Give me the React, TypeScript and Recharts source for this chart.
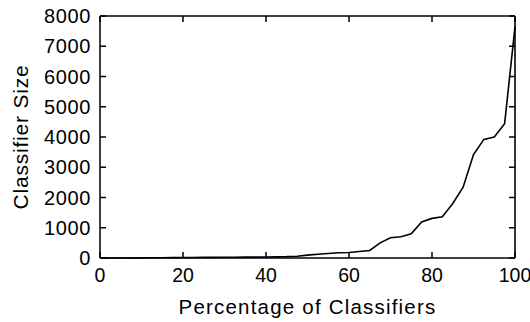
import React from 'react';
import { LineChart, Line, XAxis, YAxis } from 'recharts';

// percentage of classifiers (x) and classifier size (y)
const percentages = [
  0, 2.5, 5, 7.5, 10, 12.5, 15, 17.5, 20, 22.5, 25, 27.5, 30, 32.5, 35, 37.5, 40,
  42.5, 45, 47.5, 50, 52.5, 55, 57.5, 60, 62.5, 65, 67.5, 70, 72.5, 75, 77.5, 80,
  82.5, 85, 87.5, 90, 92.5, 95, 97.5, 100,
];
const sizes = [
  0, 0, 0, 0, 5, 8, 10, 12, 15, 18, 20, 22, 24, 26, 28, 30, 32,
  38, 45, 60, 95, 125, 150, 175, 180, 215, 250, 500, 670, 700, 800, 1190, 1310,
  1360, 1800, 2340, 3420, 3920, 4000, 4440, 7650,
];
const xTicks = [0, 20, 40, 60, 80, 100];
const yTicks = [0, 1000, 2000, 3000, 4000, 5000, 6000, 7000, 8000];

const data = percentages.map((p, i) => ({ pct: p, size: sizes[i] }));

const W = 530;
const H = 322;
const margin = { top: 16, right: 15, left: 0, bottom: 0 };
const Y_AXIS_W = 100;
const X_AXIS_H = 64;
const plotW = W - margin.left - margin.right - Y_AXIS_W;
const plotH = H - margin.top - margin.bottom - X_AXIS_H;
const TICK = 6;
const X_GAP = 10;
const Y_GAP = 9;

const font = '"Liberation Sans", Arial, sans-serif';

// bottom tick: label plus inward tick marks on bottom and top edges;
// the first tick (value 0) also draws the top edge of the frame
const XTick = (props: any) => {
  const { x, y, payload } = props;
  const base = y - X_GAP;
  const top = base - plotH;
  return (
    <g>
      <path d={`M${x},${base}V${base - TICK}M${x},${top}V${top + TICK}`} stroke="#000" strokeWidth={1.5} fill="none" />
      {payload.value === xTicks[0] && (
        <path d={`M${x},${top}H${x + plotW}`} stroke="#000" strokeWidth={1.6} fill="none" />
      )}
      <text x={x} y={y} dy="0.71em" textAnchor="middle" fill="#000" fontSize={19.5} fontFamily={font}>
        {payload.value}
      </text>
    </g>
  );
};

// left tick: label plus inward tick marks on left and right edges;
// the first tick (value 0) also draws the right edge of the frame
const YTick = (props: any) => {
  const { x, y, payload } = props;
  const left = x + Y_GAP;
  const right = left + plotW;
  return (
    <g>
      <path d={`M${left},${y}H${left + TICK}M${right},${y}H${right - TICK}`} stroke="#000" strokeWidth={1.5} fill="none" />
      {payload.value === yTicks[0] && (
        <path d={`M${right},${y}V${y - plotH}`} stroke="#000" strokeWidth={1.6} fill="none" />
      )}
      <text x={x} y={y} dy="0.355em" textAnchor="end" fill="#000" fontSize={20} fontFamily={font} letterSpacing={0.6}>
        {payload.value}
      </text>
    </g>
  );
};

export default function App() {
  return (
    <div style={{ position: 'absolute', left: 0, top: 0, background: '#fff' }}>
      <LineChart width={W} height={H} data={data} margin={margin}>
        <XAxis
          dataKey="pct"
          type="number"
          domain={[0, 100]}
          ticks={xTicks}
          height={X_AXIS_H}
          tickSize={0}
          tickMargin={X_GAP}
          axisLine={{ stroke: '#000', strokeWidth: 1.5 }}
          tickLine={false}
          tick={XTick}
          label={{
            value: 'Percentage of Classifiers',
            position: 'insideBottom',
            offset: 8,
            style: { fill: '#000', fontSize: 20.5, fontFamily: font, letterSpacing: 1.2 },
          }}
        />
        <YAxis
          type="number"
          domain={[0, 8000]}
          ticks={yTicks}
          width={Y_AXIS_W}
          tickSize={0}
          tickMargin={Y_GAP}
          axisLine={{ stroke: '#000', strokeWidth: 1.5 }}
          tickLine={false}
          tick={YTick}
          label={{
            value: 'Classifier Size',
            angle: -90,
            position: 'insideLeft',
            offset: 21,
            style: { fill: '#000', fontSize: 21, fontFamily: font, letterSpacing: 0.8, textAnchor: 'middle' },
          }}
        />
        <Line
          type="linear"
          dataKey="size"
          stroke="#000"
          strokeWidth={1.6}
          dot={false}
          isAnimationActive={false}
        />
      </LineChart>
    </div>
  );
}
